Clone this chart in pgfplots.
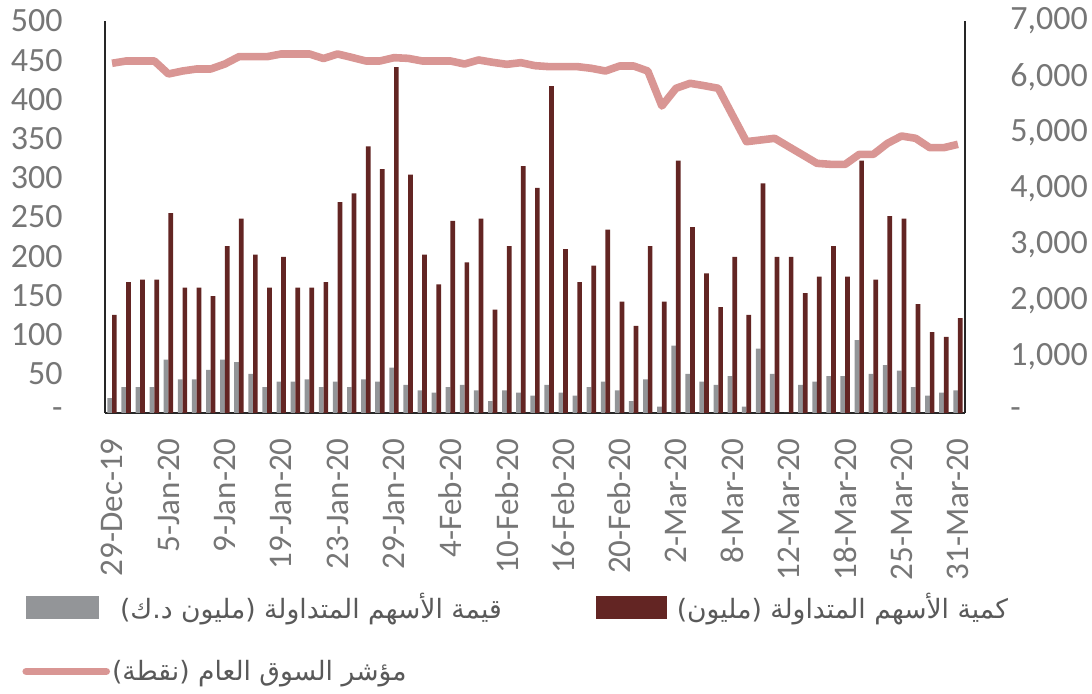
\documentclass[border=0pt]{standalone}
\usepackage{pgfplots}
\pgfplotsset{compat=1.18}
\usepackage{pgfplotstable}
\usepackage{fontspec}
\setmainfont{Carlito}
\newfontfamily\arabicfont[Script=Arabic]{DejaVu Sans}
\TeXXeTstate=1
\definecolor{grayBar}{HTML}{939598}
\definecolor{redBar}{HTML}{632523}
\definecolor{pinkLine}{HTML}{D99694}
\definecolor{axisC}{HTML}{262626}
\definecolor{tickC}{HTML}{767676}
\definecolor{legC}{HTML}{595959}

\pgfplotstableread{
x val qty
0 19 125
1 33 167
2 33 170
3 33 170
4 68 255
5 43 160
6 43 160
7 55 149
8 68 213
9 65 248
10 50 202
11 33 160
12 40 199
13 40 160
14 43 160
15 33 167
16 40 269
17 33 280
18 43 340
19 40 311
20 58 441
21 36 304
22 29 202
23 26 164
24 33 245
25 36 192
26 29 248
27 15 132
28 29 213
29 26 315
30 22 287
31 36 417
32 26 209
33 22 167
34 33 188
35 40 234
36 29 142
37 15 111
38 43 213
39 8 142
40 86 322
41 50 237
42 40 178
43 36 135
44 47 199
45 8 125
46 82 293
47 50 199
48 0 199
49 36 153
50 40 174
51 47 213
52 47 174
53 93 322
54 50 170
55 61 251
56 54 248
57 33 139
58 22 103
59 26 97
60 29 121
}\bardata

\pgfplotstableread{
x idx
0 6245
1 6286
2 6286
3 6286
4 6054
5 6107
6 6143
7 6143
8 6232
9 6363
10 6363
11 6363
12 6411
13 6411
14 6411
15 6330
16 6411
17 6350
18 6286
19 6286
20 6345
21 6333
22 6286
23 6286
24 6286
25 6232
26 6304
27 6262
28 6226
29 6256
30 6202
31 6185
32 6185
33 6185
34 6155
35 6107
36 6196
37 6196
38 6107
39 5482
40 5798
41 5887
42 5845
43 5798
44 5321
45 4845
46 4875
47 4905
48 4755
49 4607
50 4458
51 4440
52 4440
53 4619
54 4619
55 4815
56 4946
57 4905
58 4738
59 4738
60 4798
}\linedata

\begin{document}
\begin{tikzpicture}[font=\fontsize{17}{20}\selectfont]
\begin{axis}[name=main,
  scale only axis, width=430pt, height=196pt,
  xmin=-0.5, xmax=60.5, ymin=0, ymax=500,
  axis x line*=bottom, axis y line*=left,
  axis line style={draw=axisC, line width=1pt},
  major tick length=0pt,
  xtick={0,4,...,60},
  xticklabels={29-Dec-19,5-Jan-20,9-Jan-20,19-Jan-20,23-Jan-20,29-Jan-20,4-Feb-20,10-Feb-20,16-Feb-20,20-Feb-20,2-Mar-20,8-Mar-20,12-Mar-20,18-Mar-20,25-Mar-20,31-Mar-20},
  xticklabel style={yshift=-12.5pt, rotate=90, anchor=east, inner sep=0pt, text=tickC, font=\fontsize{16.5}{20}\selectfont},
  ytick={0,50,...,500},
  yticklabels={-\hspace{13.5pt},50,100,150,200,250,300,350,400,450,500},
  yticklabel style={inner sep=0pt, xshift=-21pt, anchor=east, text=tickC},
]
\addplot[ybar, bar width=0.333, bar shift=-0.1667, fill=grayBar, draw=none] table[x=x,y=val]{\bardata};
\addplot[ybar, bar width=0.333, bar shift=0.1667, fill=redBar, draw=none] table[x=x,y=qty]{\bardata};
\end{axis}
\begin{axis}[
  scale only axis, width=430pt, height=196pt,
  xmin=-0.5, xmax=60.5, ymin=0, ymax=7000,
  axis x line=none, axis y line*=right,
  axis line style={draw=axisC, line width=1pt},
  major tick length=0pt,
  ytick={0,1000,...,7000},
  yticklabels={-,{1,000},{2,000},{3,000},{4,000},{5,000},{6,000},{7,000}},
  yticklabel style={inner sep=0pt, xshift=22.5pt, anchor=west, text=tickC},
  legend columns=2,
  legend cell align=left,
  legend style={at={(axis description cs:-0.0965,-0.4592)}, anchor=north west,
    draw=none, fill=none, inner sep=0pt, row sep=19pt,
    nodes={inner sep=0pt, text=legC},
    font=\fontsize{13.3}{16}\selectfont},
]
\addlegendimage{legend image code/.code={\fill[grayBar] (0pt,-5.5pt) rectangle (36pt,5.5pt);}}
\addlegendentry{\hspace{5pt}\makebox[238pt][l]{\arabicfont\beginR قيمة الأسهم المتداولة (مليون د.ك)\endR}}
\addlegendimage{legend image code/.code={\fill[redBar] (0pt,-5.5pt) rectangle (35pt,5.5pt);}}
\addlegendentry{\hspace{5pt}\arabicfont\beginR كمية الأسهم المتداولة (مليون)\endR}
\addplot[pinkLine, line width=3.8pt, line join=round, legend image code/.code={\draw[pinkLine, line width=3.8pt, line cap=round] (0pt,0pt) -- (40pt,0pt);}] table[x=x,y=idx]{\linedata};
\addlegendentry{\hspace{1pt}\arabicfont\beginR مؤشر السوق العام  (نقطة)\endR}
\end{axis}
\path ([shift={(-52.5pt,-140.5pt)}]main.south west) rectangle ([shift={(63.5pt,10.5pt)}]main.north east);
\end{tikzpicture}
\end{document}
